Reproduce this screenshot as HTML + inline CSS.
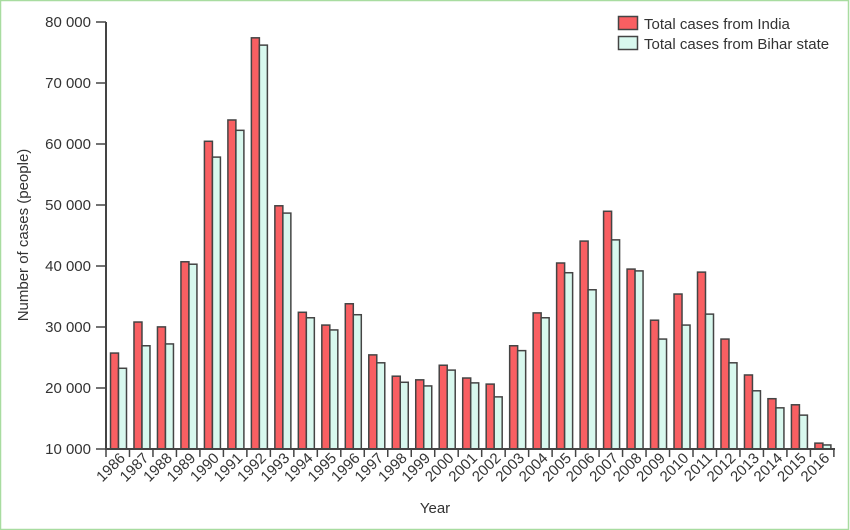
<!DOCTYPE html>
<html><head><meta charset="utf-8"><style>
html,body{margin:0;padding:0;background:#fff}
svg{display:block}
text{font-family:"Liberation Sans",sans-serif;fill:#333}
</style></head><body>
<svg id="s" width="850" height="530" viewBox="0 0 850 530" xmlns="http://www.w3.org/2000/svg">
<rect x="0.5" y="0.5" width="848" height="529" fill="#fff" stroke="#a8dca0" stroke-width="1.5"/>
<g id="bars"></g>
<line x1="106" y1="22" x2="106" y2="449" stroke="#444" stroke-width="2"/>
<line x1="105" y1="449" x2="835" y2="449" stroke="#444" stroke-width="2"/>
<g id="ticks" stroke="#444" stroke-width="1.5"></g>
<g font-size="15" text-anchor="end">
<text x="91" y="27">80 000</text>
<text x="91" y="88">70 000</text>
<text x="91" y="149">60 000</text>
<text x="91" y="210">50 000</text>
<text x="91" y="271">40 000</text>
<text x="91" y="332">30 000</text>
<text x="91" y="393">20 000</text>
<text x="91" y="454">10 000</text>
</g>
<text transform="translate(28,235) rotate(-90)" font-size="15" text-anchor="middle">Number of cases (people)</text>
<text x="435" y="513" font-size="15" text-anchor="middle">Year</text>
<g id="xl" font-size="15" text-anchor="end">
<text transform="translate(126,459) rotate(-45)">1986</text>
<text transform="translate(149.5,459) rotate(-45)">1987</text>
<text transform="translate(173,459) rotate(-45)">1988</text>
<text transform="translate(196.4,459) rotate(-45)">1989</text>
<text transform="translate(219.9,459) rotate(-45)">1990</text>
<text transform="translate(243.4,459) rotate(-45)">1991</text>
<text transform="translate(266.9,459) rotate(-45)">1992</text>
<text transform="translate(290.4,459) rotate(-45)">1993</text>
<text transform="translate(313.8,459) rotate(-45)">1994</text>
<text transform="translate(337.3,459) rotate(-45)">1995</text>
<text transform="translate(360.8,459) rotate(-45)">1996</text>
<text transform="translate(384.3,459) rotate(-45)">1997</text>
<text transform="translate(407.8,459) rotate(-45)">1998</text>
<text transform="translate(431.2,459) rotate(-45)">1999</text>
<text transform="translate(454.7,459) rotate(-45)">2000</text>
<text transform="translate(478.2,459) rotate(-45)">2001</text>
<text transform="translate(501.7,459) rotate(-45)">2002</text>
<text transform="translate(525.2,459) rotate(-45)">2003</text>
<text transform="translate(548.6,459) rotate(-45)">2004</text>
<text transform="translate(572.1,459) rotate(-45)">2005</text>
<text transform="translate(595.6,459) rotate(-45)">2006</text>
<text transform="translate(619.1,459) rotate(-45)">2007</text>
<text transform="translate(642.6,459) rotate(-45)">2008</text>
<text transform="translate(666,459) rotate(-45)">2009</text>
<text transform="translate(689.5,459) rotate(-45)">2010</text>
<text transform="translate(713,459) rotate(-45)">2011</text>
<text transform="translate(736.5,459) rotate(-45)">2012</text>
<text transform="translate(760,459) rotate(-45)">2013</text>
<text transform="translate(783.4,459) rotate(-45)">2014</text>
<text transform="translate(806.9,459) rotate(-45)">2015</text>
<text transform="translate(830.4,459) rotate(-45)">2016</text>
</g>
<rect x="618.5" y="16.5" width="19" height="13" fill="#f95f62" stroke="#444" stroke-width="1.5"/>
<rect x="618.5" y="36.5" width="19" height="13" fill="#d8f8ee" stroke="#444" stroke-width="1.5"/>
<text x="644" y="29" font-size="15">Total cases from India</text>
<text x="644" y="49" font-size="15">Total cases from Bihar state</text>
</svg>
<script>
var ind=[25600,30700,29900,40600,60400,63900,77400,49800,32300,30200,33700,25300,21800,21200,23600,21500,20500,26800,32200,40400,44000,48900,39400,31000,35300,38900,27900,22000,18100,17100,10800];
var bih=[23100,26800,27100,40200,57800,62200,76200,48600,31400,29400,31900,24000,20800,20200,22800,20700,18400,26000,31400,38800,36000,44200,39100,27900,30200,32000,24000,19400,16600,15400,10500];
var ns="http://www.w3.org/2000/svg",g=document.getElementById("bars"),t=document.getElementById("ticks");
function y(v){return 448-(v-10000)*426/70000;}
function r(x,v,c){var e=document.createElementNS(ns,"rect");var yy=y(v);e.setAttribute("x",x);e.setAttribute("y",yy);e.setAttribute("width",8);e.setAttribute("height",449-yy);e.setAttribute("fill",c);e.setAttribute("stroke","#444");e.setAttribute("stroke-width","1.5");g.appendChild(e);}
for(var i=0;i<31;i++){var x0=106+23.48*i;r(x0+4.5,ind[i],"#f95f62");r(x0+12.5,bih[i],"#d8f8ee");}
for(var i=0;i<=31;i++){var l=document.createElementNS(ns,"line");var x=106+23.48*i;l.setAttribute("x1",x);l.setAttribute("x2",x);l.setAttribute("y1",449);l.setAttribute("y2",457);t.appendChild(l);}
for(var k=0;k<8;k++){var l=document.createElementNS(ns,"line");var yy=22+61*k;l.setAttribute("x1",96);l.setAttribute("x2",106);l.setAttribute("y1",yy);l.setAttribute("y2",yy);t.appendChild(l);}
</script>
</body></html>
